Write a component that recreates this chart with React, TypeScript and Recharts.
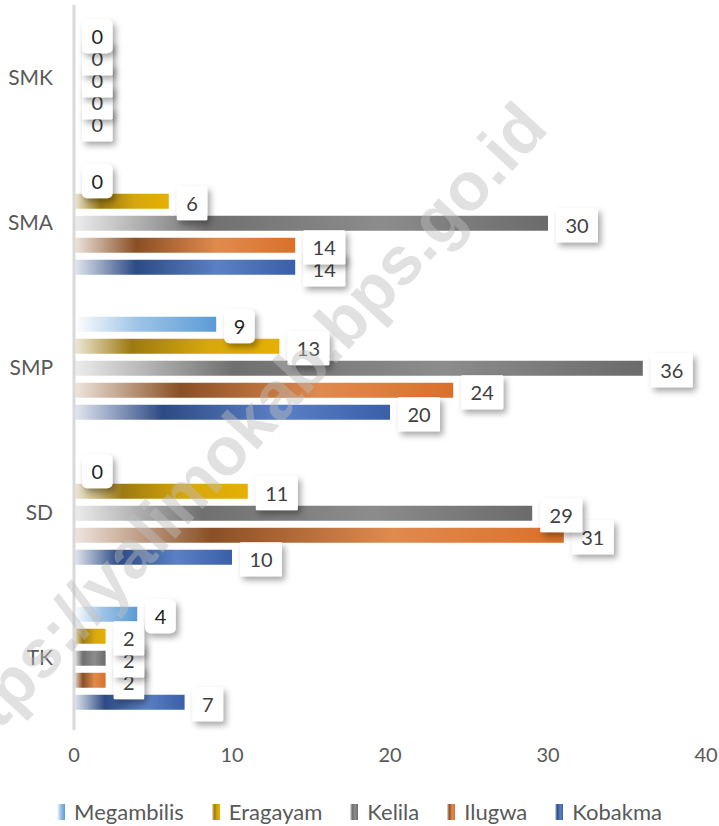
import { BarChart, Bar, XAxis, YAxis, LabelList } from 'recharts'

const categories = ['SMK', 'SMA', 'SMP', 'SD', 'TK']
const megambilis = [0, 0, 9, 0, 4]
const eragayam = [0, 6, 13, 11, 2]
const kelila = [0, 30, 36, 29, 2]
const ilugwa = [0, 14, 24, 31, 2]
const kobakma = [0, 14, 20, 10, 7]
const xTicks = [0, 10, 20, 30, 40]

const FONT = 'Lato, "Open Sans", sans-serif'
const W = 719
const H = 826

const series = [
  { key: 'Megambilis', values: megambilis, text: '#1f1f1f', rounded: true,
    stops: [[0, '#ffffff'], [0.45, '#9dc3e6'], [1, '#5b9bd5']] },
  { key: 'Eragayam', values: eragayam, text: '#404040', rounded: false,
    stops: [[0, '#efe9da'], [0.28, '#9c7a10'], [0.65, '#d7a70e'], [1, '#e5b000']] },
  { key: 'Kelila', values: kelila, text: '#404040', rounded: false,
    stops: [[0, '#ededed'], [0.28, '#707070'], [0.65, '#8c8c8c'], [1, '#6b6b6b']] },
  { key: 'Ilugwa', values: ilugwa, text: '#404040', rounded: false,
    stops: [[0, '#efe6df'], [0.28, '#8a4f25'], [0.65, '#e08a4e'], [1, '#d9702a']] },
  { key: 'Kobakma', values: kobakma, text: '#404040', rounded: false,
    stops: [[0, '#e4e8f0'], [0.28, '#2d4b84'], [0.65, '#5b80c4'], [1, '#3b5fa8']] },
] as const

const data = categories.map((name, i) => {
  const row: Record<string, any> = { name }
  series.forEach(s => { row[s.key] = s.values[i] })
  return row
})

const chartProps = {
  width: W,
  height: H,
  data,
  layout: 'vertical' as const,
  barCategoryGap: '15%',
  barGap: 7,
}

function BoxLabel(props: any) {
  const { x, y, width, height, value, color, rounded } = props
  const txt = String(value)
  const w = 19 + txt.length * 11.5
  const h = 34
  const bx = Number(x) + Math.max(0, Number(width) || 0) + 8
  const cy = Number(y) + Number(height) / 2 + 2
  return (
    <g>
      <rect x={bx} y={cy - h / 2} width={w} height={h} rx={rounded ? 5 : 1}
        fill="#ffffff" filter="url(#lblShadow)" />
      <text x={bx + w / 2} y={cy} textAnchor="middle" dominantBaseline="central"
        fontSize={20} fontFamily={FONT} fill={color}>{txt}</text>
    </g>
  )
}

// one label layer per series, stacked so the upper series sits on top
function LabelLayer({ idx }: { idx: number }) {
  const s = series[idx]
  return (
    <div style={{ position: 'absolute', left: 0, top: 0, pointerEvents: 'none' }}>
      <BarChart {...chartProps} margin={{ top: 5, right: 13, left: 74, bottom: 96 }}>
        <XAxis type="number" domain={[0, 40]} hide />
        <YAxis type="category" dataKey="name" hide />
        {series.map((t, j) => (
          <Bar key={t.key} dataKey={t.key} fill="none" minPointSize={0.01} isAnimationActive={false}>
            {j === idx && (
              <LabelList
                dataKey={t.key}
                content={(p: any) => <BoxLabel {...p} color={s.text} rounded={s.rounded} />}
              />
            )}
          </Bar>
        ))}
      </BarChart>
    </div>
  )
}

export default function App() {
  return (
    <div style={{ position: 'relative', width: W, height: H, background: '#fff', fontFamily: FONT }}>
      <style>{'body{margin:0}'}</style>
      <BarChart {...chartProps} margin={{ top: 5, right: 13, left: 0, bottom: 56 }}>
        <defs>
          <filter id="lblShadow" x="-30%" y="-30%" width="170%" height="180%">
            <feDropShadow dx="3" dy="4" stdDeviation="3" floodColor="#000" floodOpacity="0.35" />
          </filter>
          {series.map(s => (
            <linearGradient key={s.key} id={`g-${s.key}`} x1="0" y1="0" x2="1" y2="0">
              {s.stops.map(([o, c]) => <stop key={o} offset={o} stopColor={c} />)}
            </linearGradient>
          ))}
        </defs>
        <XAxis
          type="number"
          domain={[0, 40]}
          ticks={xTicks}
          axisLine={false}
          tickLine={false}
          tickSize={0}
          tickMargin={18}
          height={40}
          tick={{ fontSize: 20, fill: '#595959', fontFamily: FONT }}
        />
        <YAxis
          type="category"
          dataKey="name"
          width={74}
          axisLine={{ stroke: '#d9d9d9', strokeWidth: 3 }}
          tickLine={false}
          tickSize={0}
          tickMargin={21}
          tick={{ fontSize: 21, fill: '#595959', fontFamily: FONT }}
        />
        {series.map(s => (
          <Bar key={s.key} dataKey={s.key} fill={`url(#g-${s.key})`} minPointSize={0.01}
            isAnimationActive={false} />
        ))}
      </BarChart>

      {[4, 3, 2, 1, 0].map(i => <LabelLayer key={i} idx={i} />)}

      <div style={{ position: 'absolute', left: 0, top: 797, width: W, display: 'flex',
        justifyContent: 'center', gap: 28, fontSize: 22, color: '#595959', lineHeight: '30px' }}>
        {series.map(s => (
          <div key={s.key} style={{ display: 'flex', alignItems: 'center', gap: 9 }}>
            <span style={{ width: 8, height: 16, display: 'inline-block',
              background: `linear-gradient(to right, ${s.stops.map(([o, c]) => `${c} ${o * 100}%`).join(', ')})` }} />
            <span>{s.key}</span>
          </div>
        ))}
      </div>

      <svg width={W} height={H} style={{ position: 'absolute', left: 0, top: 0, pointerEvents: 'none' }}>
        <text x={550} y={130} textAnchor="end" fontSize={68} fontWeight="bold"
          fontFamily='"Liberation Sans", Arial, sans-serif' fill="#bdbdbd" fillOpacity={0.45}
          transform="rotate(-47.5 550 130)">https://yalimokab.bps.go.id</text>
      </svg>
    </div>
  )
}
